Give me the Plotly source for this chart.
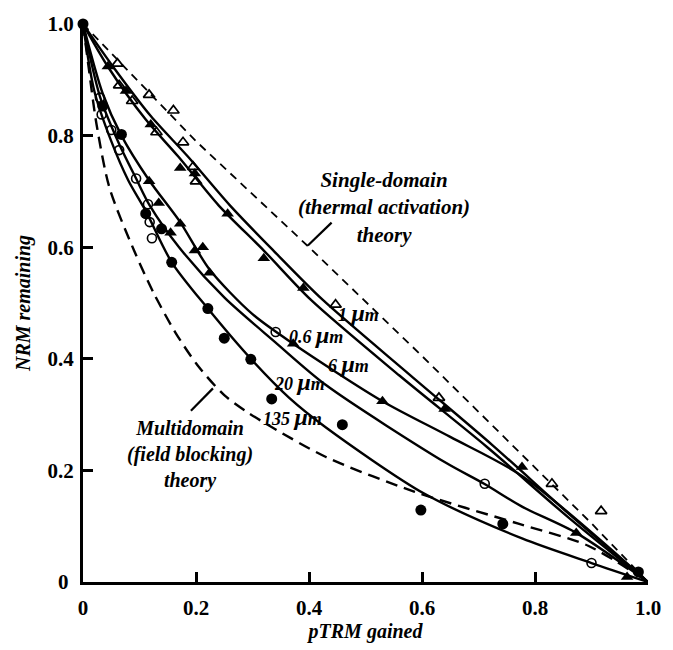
import plotly.graph_objects as go

# ---- theory curves ----
sd_x = [0, 0.1, 0.2, 0.4, 0.6, 0.8, 0.9, 1.0]
sd_y = [1, 0.895, 0.79, 0.60, 0.405, 0.205, 0.105, 0]
md_x = [0, 0.009, 0.024, 0.047, 0.09, 0.125, 0.163, 0.203, 0.25, 0.29, 0.33, 0.43, 0.586, 0.772, 0.894, 1.0]
md_y = [1, 0.93, 0.82, 0.706, 0.595, 0.518, 0.448, 0.388, 0.335, 0.305, 0.28, 0.224, 0.162, 0.104, 0.065, 0]

# ---- fitted experimental curves ----
fit_a_x = [0, 0.05, 0.12, 0.186, 0.26, 0.337, 0.424, 0.58, 0.725, 0.86, 1.0]
fit_a_y = [1, 0.928, 0.835, 0.762, 0.675, 0.594, 0.506, 0.37, 0.245, 0.122, 0]
fit_b_x = [0, 0.045, 0.11, 0.169, 0.24, 0.32, 0.403, 0.56, 0.715, 0.86, 1.0]
fit_b_y = [1, 0.922, 0.83, 0.762, 0.675, 0.594, 0.506, 0.37, 0.242, 0.115, 0]
fit_c_x = [0, 0.035, 0.068, 0.117, 0.172, 0.224, 0.30, 0.372, 0.53, 0.65, 0.777, 1.0]
fit_c_y = [1, 0.875, 0.80, 0.72, 0.645, 0.56, 0.48, 0.427, 0.324, 0.26, 0.19, 0]
fit_d_x = [0, 0.03, 0.064, 0.094, 0.118, 0.17, 0.25, 0.34, 0.43, 0.64, 0.71, 0.777, 0.873, 1.0]
fit_d_y = [1, 0.87, 0.785, 0.723, 0.675, 0.60, 0.51, 0.43, 0.353, 0.215, 0.176, 0.135, 0.088, 0]
fit_e_x = [0, 0.02, 0.05, 0.08, 0.111, 0.157, 0.221, 0.297, 0.365, 0.43, 0.603, 0.777, 0.9, 1.0]
fit_e_y = [1, 0.88, 0.79, 0.72, 0.665, 0.573, 0.49, 0.40, 0.33, 0.277, 0.159, 0.078, 0.034, 0]

# ---- data points ----
open_tri_x = [0.061, 0.064, 0.087, 0.117, 0.13, 0.16, 0.177, 0.195, 0.2, 0.447, 0.63, 0.83, 0.917]
open_tri_y = [0.929, 0.89, 0.862, 0.873, 0.806, 0.845, 0.788, 0.744, 0.718, 0.497, 0.33, 0.176, 0.127]
filled_tri_x = [0.044, 0.076, 0.12, 0.172, 0.198, 0.256, 0.32, 0.39, 0.64, 0.777, 0.117, 0.134,
                0.172, 0.155, 0.212, 0.198, 0.224, 0.372, 0.53, 0.873, 0.963]
filled_tri_y = [0.924, 0.88, 0.82, 0.742, 0.732, 0.66, 0.58, 0.527, 0.31, 0.206, 0.718, 0.679,
                0.642, 0.626, 0.60, 0.594, 0.554, 0.427, 0.324, 0.088, 0.009]
open_circ_x = [0.03, 0.033, 0.05, 0.064, 0.094, 0.115, 0.118, 0.122, 0.341, 0.711, 0.9]
open_circ_y = [0.868, 0.838, 0.81, 0.774, 0.723, 0.677, 0.645, 0.616, 0.448, 0.176, 0.034]
filled_circ_x = [0, 0.035, 0.068, 0.111, 0.139, 0.157, 0.221, 0.25, 0.297, 0.334, 0.459, 0.598, 0.743, 0.983]
filled_circ_y = [1, 0.853, 0.802, 0.66, 0.633, 0.573, 0.49, 0.437, 0.399, 0.328, 0.282, 0.129, 0.104, 0.018]

tick_vals = [0, 0.2, 0.4, 0.6, 0.8, 1.0]
x_tick_text = ["0", "0.2", "0.4", "0.6", "0.8", "1.0"]
y_tick_text = ["0\u00a0", "0.2", "0.4", "0.6", "0.8", "1.0"]

size_labels = ["1", "0.6", "6", "20", "135"]
size_label_x = [0.488, 0.413, 0.47, 0.384, 0.37]
size_label_y = [0.482, 0.443, 0.39, 0.358, 0.295]

FONT = "Liberation Serif"

fig = go.Figure()

fig.add_trace(go.Scatter(x=sd_x, y=sd_y, mode="lines", line=dict(color="black", width=1.8, dash="8px,6px"),
                         cliponaxis=False))
fig.add_trace(go.Scatter(x=md_x, y=md_y, mode="lines",
                         line=dict(color="black", width=2.4, dash="12px,7px", shape="spline", smoothing=0.8),
                         cliponaxis=False))
for fx, fy in [(fit_a_x, fit_a_y), (fit_b_x, fit_b_y), (fit_c_x, fit_c_y), (fit_d_x, fit_d_y), (fit_e_x, fit_e_y)]:
    fig.add_trace(go.Scatter(x=fx, y=fy, mode="lines",
                             line=dict(color="black", width=2.4, shape="spline", smoothing=0.8),
                             cliponaxis=False))

fig.add_trace(go.Scatter(x=open_tri_x, y=open_tri_y, mode="markers", cliponaxis=False,
                         marker=dict(symbol="triangle-up-open", size=10, color="black", line=dict(width=1.7))))
fig.add_trace(go.Scatter(x=filled_tri_x, y=filled_tri_y, mode="markers", cliponaxis=False,
                         marker=dict(symbol="triangle-up", size=11, color="black")))
fig.add_trace(go.Scatter(x=open_circ_x, y=open_circ_y, mode="markers", cliponaxis=False,
                         marker=dict(symbol="circle-open", size=9, color="black", line=dict(width=1.6))))
fig.add_trace(go.Scatter(x=filled_circ_x, y=filled_circ_y, mode="markers", cliponaxis=False,
                         marker=dict(symbol="circle", size=11, color="black")))

# theory labels
fig.add_annotation(x=0.533, y=0.745, xref="x", yref="y", showarrow=False, yanchor="top",
                   text="<b><i>Single-domain<br>(thermal activation)<br>theory</i></b>",
                   font=dict(family=FONT, size=21, color="black"), align="center")
fig.add_annotation(x=0.19, y=0.30, xref="x", yref="y", showarrow=False, yanchor="top",
                   text="<b><i>Multidomain<br>(field blocking)<br>theory</i></b>",
                   font=dict(family=FONT, size=20, color="black"), align="center")
fig.add_shape(type="line", x0=0.44, y0=0.644, x1=0.398, y1=0.603, line=dict(color="black", width=2.2))
fig.add_shape(type="line", x0=0.23, y0=0.347, x1=0.191, y1=0.307, line=dict(color="black", width=2.2))

for lab, lx, ly in zip(size_labels, size_label_x, size_label_y):
    fig.add_annotation(x=lx, y=ly, xref="x", yref="y", showarrow=False,
                       text="<b><i>" + lab + " <span style='font-size:24px'>μ</span>m</i></b>",
                       font=dict(family=FONT, size=18, color="black"))

axis_common = dict(range=[0, 1.0], showgrid=False, zeroline=False, showline=True, linecolor="black",
                   linewidth=3, ticks="inside", ticklen=10, tickwidth=3, tickcolor="black",
                   tickvals=tick_vals, tickangle=0,
                   tickfont=dict(family=FONT, size=21, color="black"))

fig.update_layout(
    width=673, height=650, margin=dict(l=83, r=15, t=20, b=63),
    plot_bgcolor="white", paper_bgcolor="white", showlegend=False,
    xaxis=dict(**axis_common, ticktext=["<b>" + t + "</b>" for t in x_tick_text], ticklabelstandoff=5,
               title=dict(text="<b><i>pTRM gained</i></b>", standoff=4,
                          font=dict(family=FONT, size=20, color="black"))),
    yaxis=dict(**axis_common, ticktext=["<b>" + t + "</b>" for t in y_tick_text], ticklabelstandoff=2,
               title=dict(text="<b><i>NRM remaining</i></b>", standoff=12,
                          font=dict(family=FONT, size=20, color="black"))),
)

fig.write_html("out.html")
